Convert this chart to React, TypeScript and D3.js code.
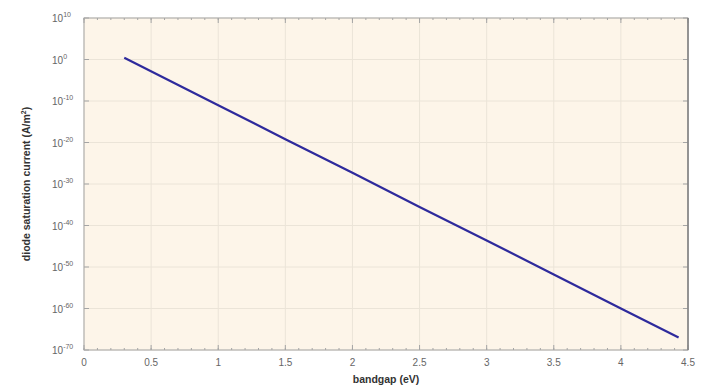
import React, { useRef, useEffect } from "react";
import * as d3 from "d3";

// bandgap (eV) vs diode saturation current (A/m^2)
const bandgap = [0.3, 1.0, 1.5, 2.0, 2.5, 3.0, 3.5, 4.0, 4.43];
const current = [2.5e0, 1e-11, 6e-20, 5e-28, 3e-36, 2.5e-44, 1.6e-52, 1e-60, 1e-67];

const xTicks = [0, 0.5, 1, 1.5, 2, 2.5, 3, 3.5, 4, 4.5];
const yExponents = [10, 0, -10, -20, -30, -40, -50, -60, -70];

const width = 701;
const height = 392;
const margin = { top: 18, right: 12, bottom: 42, left: 84 };

const App: React.FC = () => {
  const svgRef = useRef<SVGSVGElement>(null);

  useEffect(() => {
    if (!svgRef.current) return;
    const svg = d3.select(svgRef.current);
    svg.selectAll("*").remove();

    const x = d3
      .scaleLinear()
      .domain([0, 4.5])
      .range([margin.left, width - margin.right - 1]);

    const y = d3
      .scaleLog()
      .domain([1e-70, 1e10])
      .range([height - margin.bottom, margin.top]);

    const x0 = x.range()[0];
    const x1 = x.range()[1];
    const y0 = y.range()[0];
    const y1 = y.range()[1];

    // plot background
    svg
      .append("rect")
      .attr("x", x0)
      .attr("y", y1)
      .attr("width", x1 - x0)
      .attr("height", y0 - y1)
      .attr("fill", "#fdf5e9");

    // grid
    const grid = svg.append("g").attr("stroke", "#ebe4d8").attr("stroke-width", 1);
    xTicks.forEach((t) => {
      grid
        .append("line")
        .attr("x1", x(t))
        .attr("x2", x(t))
        .attr("y1", y0)
        .attr("y2", y1);
    });
    yExponents.forEach((e) => {
      grid
        .append("line")
        .attr("x1", x0)
        .attr("x2", x1)
        .attr("y1", y(Math.pow(10, e)))
        .attr("y2", y(Math.pow(10, e)));
    });

    // minor x ticks top and bottom
    const minor = d3.range(0, 4.51, 0.1);
    const ticks = svg.append("g").attr("stroke", "#a5a5a5").attr("stroke-width", 1);
    minor.forEach((t) => {
      ticks.append("line").attr("x1", x(t)).attr("x2", x(t)).attr("y1", y0).attr("y2", y0 - 2);
      ticks.append("line").attr("x1", x(t)).attr("x2", x(t)).attr("y1", y1).attr("y2", y1 + 2);
    });
    xTicks.forEach((t) => {
      ticks.append("line").attr("x1", x(t)).attr("x2", x(t)).attr("y1", y0).attr("y2", y0 - 5);
      ticks.append("line").attr("x1", x(t)).attr("x2", x(t)).attr("y1", y1).attr("y2", y1 + 5);
    });
    yExponents.forEach((e) => {
      const yy = y(Math.pow(10, e));
      ticks.append("line").attr("x1", x0).attr("x2", x0 + 5).attr("y1", yy).attr("y2", yy);
      ticks.append("line").attr("x1", x1).attr("x2", x1 - 5).attr("y1", yy).attr("y2", yy);
    });

    // frame
    svg
      .append("rect")
      .attr("x", x0)
      .attr("y", y1)
      .attr("width", x1 - x0)
      .attr("height", y0 - y1)
      .attr("fill", "none")
      .attr("stroke", "#a8a8a8")
      .attr("stroke-width", 1);
    svg
      .append("line")
      .attr("x1", x1)
      .attr("x2", x1)
      .attr("y1", y1)
      .attr("y2", y0)
      .attr("stroke", "#808080")
      .attr("stroke-width", 1.5);

    // data line
    const line = d3
      .line<number>()
      .x((_, i) => x(bandgap[i]))
      .y((d) => y(d));
    svg
      .append("path")
      .datum(current)
      .attr("d", line)
      .attr("fill", "none")
      .attr("stroke", "#2e2a9c")
      .attr("stroke-width", 2.2);

    const font = "Liberation Sans, Arial, sans-serif";

    // x tick labels
    svg
      .append("g")
      .selectAll("text")
      .data(xTicks)
      .join("text")
      .attr("x", (d) => x(d))
      .attr("y", y0 + 16)
      .attr("text-anchor", "middle")
      .attr("font-family", font)
      .attr("font-size", 10)
      .attr("fill", "#666")
      .text((d) => String(d));

    // y tick labels 10^e
    const yl = svg
      .append("g")
      .selectAll("text")
      .data(yExponents)
      .join("text")
      .attr("x", x0 - 32)
      .attr("y", (d) => y(Math.pow(10, d)) + 4)
      .attr("font-family", font)
      .attr("font-size", 10)
      .attr("fill", "#666");
    yl.append("tspan").text("10");
    yl.append("tspan")
      .attr("dy", -5)
      .attr("font-size", 7)
      .text((d) => String(d));

    // axis labels
    svg
      .append("text")
      .attr("x", (x0 + x1) / 2)
      .attr("y", y0 + 33)
      .attr("text-anchor", "middle")
      .attr("font-family", font)
      .attr("font-size", 10.5)
      .attr("font-weight", "bold")
      .attr("fill", "#333")
      .text("bandgap (eV)");

    const ylab = svg
      .append("text")
      .attr("transform", `translate(30,${(y0 + y1) / 2}) rotate(-90)`)
      .attr("text-anchor", "middle")
      .attr("font-family", font)
      .attr("font-size", 10.5)
      .attr("font-weight", "bold")
      .attr("fill", "#333");
    ylab.append("tspan").text("diode saturation current (A/m");
    ylab.append("tspan").attr("dy", -4).attr("font-size", 7).text("2");
    ylab.append("tspan").attr("dy", 4).text(")");
  }, []);

  return (
    <svg
      ref={svgRef}
      width={width}
      height={height}
      style={{ position: "absolute", left: 0, top: 0, background: "#fff" }}
    ></svg>
  );
};

export default App;
